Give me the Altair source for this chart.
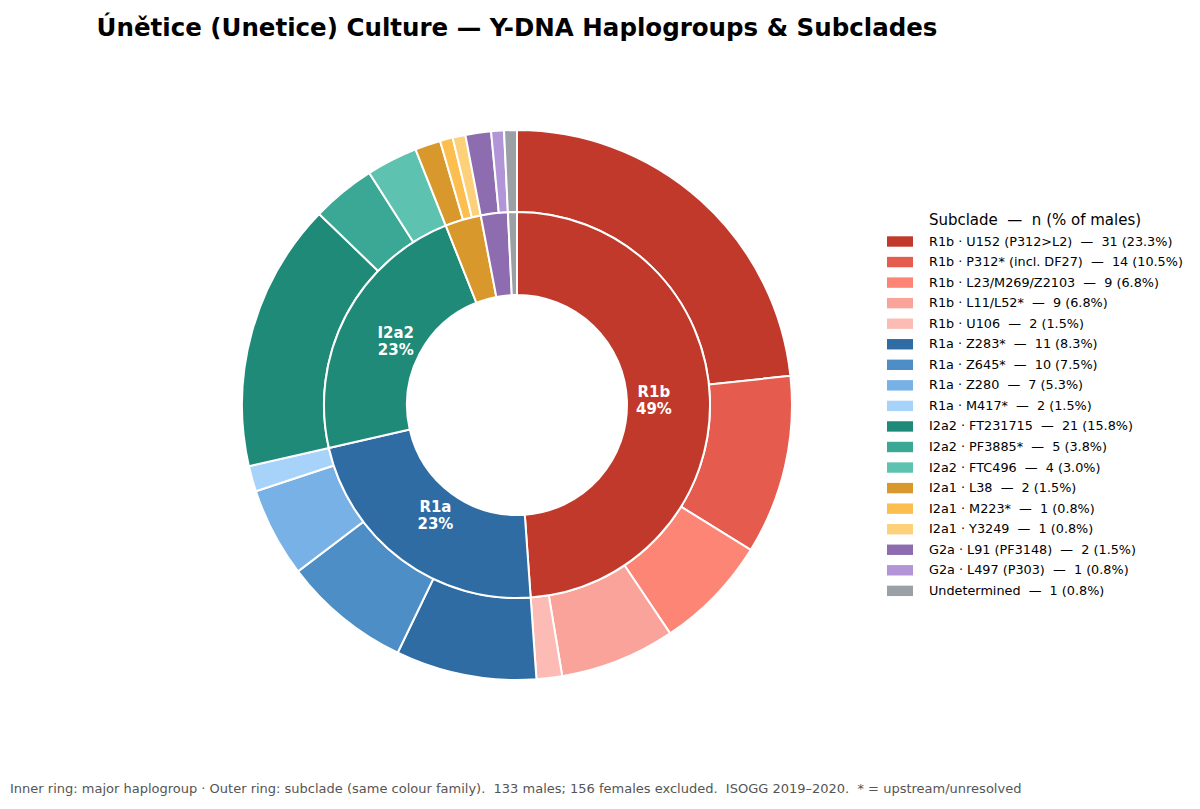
import altair as alt
import pandas as pd

# Daten: Untergruppen (aeusserer Ring)
sub_groups = ["R1b", "R1b", "R1b", "R1b", "R1b",
              "R1a", "R1a", "R1a", "R1a",
              "I2a2", "I2a2", "I2a2",
              "I2a1", "I2a1", "I2a1",
              "G2a", "G2a", "Undetermined"]
sub_names = ["U152 (P312>L2)", "P312* (incl. DF27)", "L23/M269/Z2103", "L11/L52*", "U106",
             "Z283*", "Z645*", "Z280", "M417*",
             "FT231715", "PF3885*", "FTC496",
             "L38", "M223*", "Y3249",
             "L91 (PF3148)", "L497 (P303)", ""]
sub_counts = [31, 14, 9, 9, 2,
              11, 10, 7, 2,
              21, 5, 4,
              2, 1, 1,
              2, 1, 1]
sub_colors = ["#c0392b", "#e55b4e", "#fd8576", "#f9a39a", "#fcbcb5",
              "#2e6ca3", "#4e8ec6", "#78b1e6", "#a7d3fb",
              "#1f8a78", "#3ba896", "#5ec2b1",
              "#d8982b", "#fbbe4f", "#fdd07a",
              "#8e6cb0", "#b295d6", "#9aa0a6"]

# Daten: Haupt-Haplogruppen (innerer Ring)
hg_names = ["R1b", "R1a", "I2a2", "I2a1", "G2a", "Undetermined"]
hg_counts = [65, 30, 30, 4, 3, 1]
hg_colors = ["#c0392b", "#2e6ca3", "#1f8a78", "#d8982b", "#8e6cb0", "#9aa0a6"]
hg_show = [True, True, True, False, False, False]

total = sum(sub_counts)
sep = "\u00a0\u00a0\u2014\u00a0\u00a0"

labels = []
for g, s, n in zip(sub_groups, sub_names, sub_counts):
    name = g if s == "" else f"{g} \u00b7 {s}"
    labels.append(f"{name}{sep}{n} ({n / total * 100:.1f}%)")

outer = pd.DataFrame({"label": labels, "n": sub_counts, "idx": range(len(labels))})
inner = pd.DataFrame({
    "hg": hg_names, "n": hg_counts, "col": hg_colors, "idx": range(len(hg_names)),
    "txt": [f"{h}\n{round(c / total * 100)}%" if show else ""
            for h, c, show in zip(hg_names, hg_counts, hg_show)],
})

footnote = ("Inner ring: major haplogroup \u00b7 Outer ring: subclade (same colour family).\u00a0 "
            "133 males; 156 females excluded.\u00a0 ISOGG 2019\u20132020.\u00a0 * = upstream/unresolved")

# aeusserer Ring
ring_out = alt.Chart(outer).mark_arc(outerRadius=275, innerRadius=193, stroke="white", strokeWidth=2).encode(
    theta=alt.Theta("n:Q", stack=True),
    order=alt.Order("idx:Q"),
    color=alt.Color("label:N", scale=alt.Scale(domain=labels, range=sub_colors),
                    legend=alt.Legend(title=f"Subclade{sep}n (% of males)")),
)

# innerer Ring
ring_in = alt.Chart(inner).mark_arc(outerRadius=193, innerRadius=110, stroke="white", strokeWidth=2).encode(
    theta=alt.Theta("n:Q", stack=True),
    order=alt.Order("idx:Q"),
    color=alt.Color("col:N", scale=None),
)

ring_txt = alt.Chart(inner).mark_text(radius=137, dy=-8, color="white", fontSize=15, fontWeight="bold",
                                      lineBreak="\n", font="DejaVu Sans").encode(
    theta=alt.Theta("n:Q", stack=True),
    order=alt.Order("idx:Q"),
    text="txt:N",
)

note = alt.Chart(pd.DataFrame({"t": [footnote]})).mark_text(
    align="left", baseline="middle", fontSize=13, color="#555555", font="DejaVu Sans"
).encode(x=alt.value(2), y=alt.value(731), text="t:N")

chart = alt.layer(ring_out, ring_in, ring_txt, note).resolve_scale(color="independent").properties(
    width=1018, height=694,
    autosize=alt.AutoSizeParams(type="none"),
    padding={"left": 0, "top": 50, "right": 166, "bottom": 49},
    title=alt.Title("\u00danětice (Unetice) Culture \u2014 Y-DNA Haplogroups & Subclades",
                    fontSize=24.5, fontWeight="bold", font="DejaVu Sans", anchor="middle",
                    frame="group", offset=17, color="black"),
).configure_view(stroke=None).configure_legend(
    orient="none", legendX=879, legendY=155, padding=0,
    symbolType="M-1,-0.4H1V0.4H-1Z", symbolSize=676, symbolStrokeWidth=0,
    labelFont="DejaVu Sans", labelFontSize=12.8, labelColor="black", labelLimit=400,
    titleFont="DejaVu Sans", titleFontSize=15, titleFontWeight="normal", titleColor="black",
    titleLimit=400, titleAnchor="middle", titlePadding=0.5, rowPadding=0.55, labelOffset=16,
)

chart.save("out.html", embed_options={"renderer": "svg", "actions": False})
